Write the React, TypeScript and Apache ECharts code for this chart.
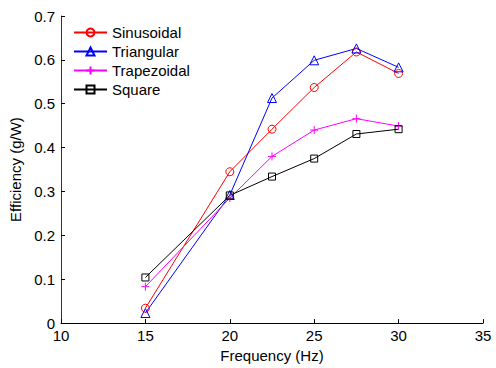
import React, { useEffect, useRef } from "react";
import * as echarts from "echarts";

const frequencies = [15, 20, 22.5, 25, 27.5, 30];
const sinusoidal = [0.034, 0.345, 0.442, 0.537, 0.618, 0.569];
const triangular = [0.023, 0.292, 0.513, 0.599, 0.626, 0.583];
const trapezoidal = [0.083, 0.285, 0.38, 0.44, 0.466, 0.449];
const square = [0.104, 0.291, 0.334, 0.375, 0.431, 0.442];
const seriesNames = ["Sinusoidal", "Triangular", "Trapezoidal", "Square"];
const seriesColors = ["#ff0000", "#0000ff", "#ff00ff", "#000000"];
const seriesSymbols = [
  "circle",
  "triangle",
  "path://M0,5L10,5M5,0L5,10",
  "rect",
];
const symbolSizes = [8, 9, 8, 7];

const FONT = "Liberation Sans, Arial, Helvetica, sans-serif";

export default function App() {
  const ref = useRef<HTMLDivElement>(null);
  useEffect(() => {
    if (!ref.current) return;
    const chart = echarts.init(ref.current, undefined, { renderer: "svg" });
    const all = [sinusoidal, triangular, trapezoidal, square];
    chart.setOption({
      animation: false,
      backgroundColor: "#ffffff",
      textStyle: { fontFamily: FONT },
      grid: { left: 61, right: 13, top: 16, bottom: 40, containLabel: false },
      legend: {
        orient: "vertical",
        left: 73,
        top: 25,
        padding: 0,
        itemWidth: 33,
        itemHeight: 10,
        itemGap: 4,
        textStyle: { fontFamily: FONT, fontSize: 15, lineHeight: 15, color: "#000" },
        data: seriesNames,
      },
      xAxis: {
        type: "value",
        min: 10,
        max: 35,
        interval: 5,
        name: "Frequency (Hz)",
        nameLocation: "middle",
        nameGap: 19,
        nameTextStyle: { fontFamily: FONT, fontSize: 15, color: "#000" },
        axisLine: { show: true, onZero: false, lineStyle: { color: "#000", width: 1 } },
        axisTick: { show: true, inside: true, length: 4, lineStyle: { color: "#000" } },
        axisLabel: { fontFamily: FONT, fontSize: 15, color: "#000", margin: 5 },
        splitLine: { show: false },
      },
      yAxis: {
        type: "value",
        min: 0,
        max: 0.7,
        interval: 0.1,
        name: "Efficiency (g/W)",
        nameLocation: "middle",
        nameGap: 33,
        nameTextStyle: { fontFamily: FONT, fontSize: 15, color: "#000" },
        axisLine: { show: true, onZero: false, lineStyle: { color: "#333", width: 1 } },
        axisTick: { show: true, inside: true, length: 4, lineStyle: { color: "#000" } },
        axisLabel: {
          fontFamily: FONT,
          fontSize: 15,
          color: "#000",
          margin: 6,
          formatter: (v: number) => (v === 0 ? "0" : String(Math.round(v * 10) / 10)),
        },
        splitLine: { show: false },
      },
      series: seriesNames.map((name, i) => ({
        name,
        type: "line",
        data: frequencies.map((f, j) => [f, all[i][j]]),
        color: seriesColors[i],
        symbol: seriesSymbols[i],
        symbolSize: symbolSizes[i],
        showAllSymbol: true,
        lineStyle: { color: seriesColors[i], width: 1 },
        itemStyle: { color: "transparent", borderColor: seriesColors[i], borderWidth: 1 },
        emphasis: { disabled: true },
      })),
    });
    return () => chart.dispose();
  }, []);
  return (
    <div
      ref={ref}
      style={{ position: "fixed", left: 0, top: 0, width: 496, height: 368 }}
    />
  );
}
